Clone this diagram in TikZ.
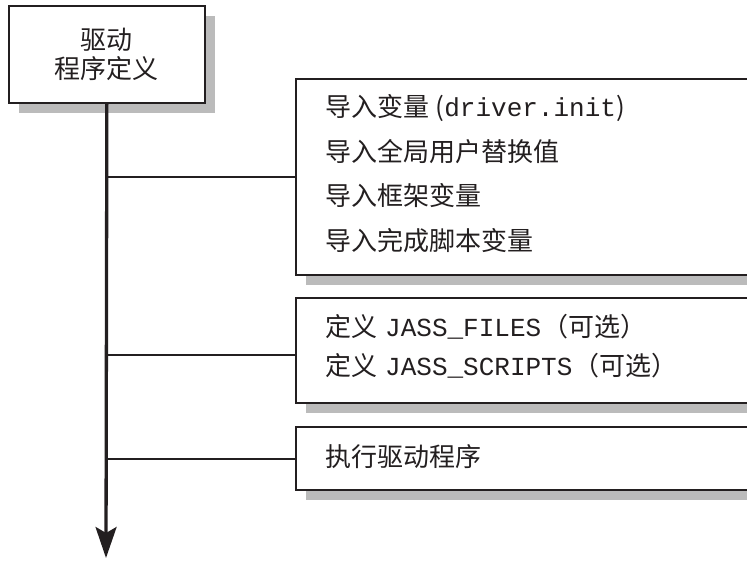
\documentclass[tikz,border=0pt]{standalone}
\usepackage{fontspec}
\setmainfont{Noto Sans CJK SC}
\setmonofont{Liberation Mono}
\usetikzlibrary{arrows.meta,shadows}
\definecolor{ink}{HTML}{231F20}
\definecolor{shade}{HTML}{BBBBBB}
\begin{document}
\begin{tikzpicture}[x=1pt,y=-1pt,
  box/.style={draw=ink, line width=1.7pt, fill=white, inner sep=0pt, anchor=north west,
    drop shadow={shadow xshift=10pt, shadow yshift=-10pt, fill=shade, opacity=1}},
  txt/.style={inner sep=0pt, anchor=base west, text=ink, font=\fontsize{26}{30}\selectfont},
  ttl/.style={inner sep=0pt, anchor=center, text=ink, font=\fontsize{26}{30}\selectfont},
  trunk/.style={draw=ink, line width=3.3pt},
  branch/.style={draw=ink, line width=2.2pt}]
\useasboundingbox (0,0) rectangle (747,561);
\clip (0,0) rectangle (747,561);
% boxes
\node[box, minimum width=196pt, minimum height=97pt] (top) at (8,5) {};
\node[box, minimum width=480pt, minimum height=196pt] (b1) at (295,78) {};
\node[box, minimum width=480pt, minimum height=105pt] (b2) at (295,297) {};
\node[box, minimum width=480pt, minimum height=63pt] (b3) at (295,426) {};
% title
\node[ttl] (t1) at (106,40) {驱动};
\node[ttl] (t2) at (106,69) {程序定义};
% box 1 text
\node[txt] (l11a) at (325,117) {导入变量};
\node[txt] (l11b) at ([xshift=6pt]l11a.base east) {(\texttt{driver.init})};
\node[txt] (l12) at (325,162) {导入全局用户替换值};
\node[txt] (l13) at (325,206) {导入框架变量};
\node[txt] (l14) at (325,251) {导入完成脚本变量};
% box 2 text
\node[txt] (l21a) at (325,337) {定义};
\node[txt] (l21b) at (385,337) {\texttt{JASS\_FILES}};
\node[txt] (l21c) at ([xshift=1pt]l21b.base east) {（可选）};
\node[txt] (l22a) at (325,375) {定义};
\node[txt] (l22b) at (385,375) {\texttt{JASS\_SCRIPTS}};
\node[txt] (l22c) at ([xshift=1pt]l22b.base east) {（可选）};
% box 3 text
\node[txt] (l31) at (325,466) {执行驱动程序};
% trunk
\coordinate (end) at (106,558);
\coordinate (j1) at (106,177);
\coordinate (j2) at (106,355);
\coordinate (j3) at (106,459);
\draw[trunk, -{Stealth[length=31pt,width=21pt,inset=6pt]}] (top.south) -- (end);
\draw[branch] (j1) -- (j1 -| b1.west);
\draw[branch] (j2) -- (j2 -| b2.west);
\draw[branch] (j3) -- (j3 -| b3.west);
\end{tikzpicture}
\end{document}
